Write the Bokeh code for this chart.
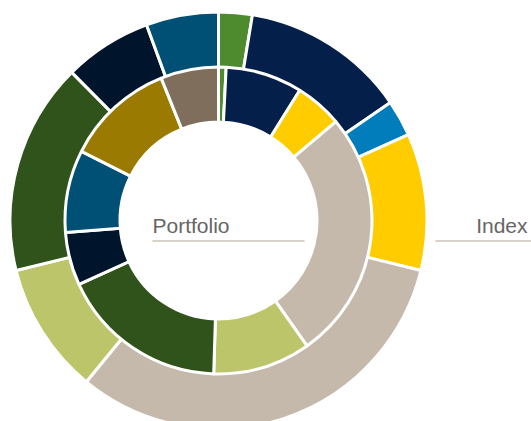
import numpy as np
from bokeh.plotting import figure
from bokeh.models import Range1d, ColumnDataSource
from bokeh.core.properties import value
from bokeh.embed import file_html
from bokeh.resources import INLINE

# ---- data (percent weights, clockwise from 12 o'clock) ----
portfolio_categories = ["Green", "Navy", "Yellow", "Beige", "Light Green",
                        "Dark Green", "Dark Navy", "Teal", "Mustard", "Taupe"]
portfolio_values = [0.8, 8.1, 5.0, 26.4, 10.3, 17.7, 5.6, 8.7, 11.5, 6.1]
portfolio_colors = ["#4E8A2E", "#04204A", "#FFCC00", "#C5B9AC", "#BDC56B",
                    "#30531C", "#00152B", "#004F74", "#9A7A00", "#7F6E5C"]

index_categories = ["Green", "Navy", "Blue", "Yellow", "Beige", "Light Green",
                    "Dark Green", "Dark Navy", "Teal"]
index_values = [2.6, 12.8, 2.8, 10.6, 32.0, 10.2, 16.4, 6.8, 5.6]
index_colors = ["#4E8A2E", "#04204A", "#007DBA", "#FFCC00", "#C5B9AC",
                "#BDC56B", "#30531C", "#00152B", "#004F74"]

ring_labels = ["Portfolio", "Index"]

W, H = 531, 421
CX, CY = 218, H - 220


def ring_source(cats, vals, cols):
    v = np.asarray(vals, dtype=float)
    frac = v / v.sum()
    ends = np.cumsum(frac) * 2 * np.pi
    starts = ends - frac * 2 * np.pi
    return ColumnDataSource(dict(
        cat=cats, color=cols,
        start=np.pi / 2 - starts, end=np.pi / 2 - ends,
    ))


p = figure(width=W, height=H, output_backend="svg", toolbar_location=None,
           x_range=Range1d(0, W), y_range=Range1d(0, H),
           min_border=0, min_border_left=0, min_border_right=0,
           min_border_top=0, min_border_bottom=0)
p.axis.visible = False
p.grid.visible = False
p.outline_line_color = None
p.background_fill_color = "white"
p.border_fill_color = "white"

src_in = ring_source(portfolio_categories, portfolio_values, portfolio_colors)
src_out = ring_source(index_categories, index_values, index_colors)

p.annular_wedge(x=CX, y=CY, inner_radius=152.5, outer_radius=208.5,
                start_angle="start", end_angle="end", direction="clock",
                fill_color="color", line_color="white", line_width=3,
                source=src_out)
p.annular_wedge(x=CX, y=CY, inner_radius=98.5, outer_radius=153.5,
                start_angle="start", end_angle="end", direction="clock",
                fill_color="color", line_color="white", line_width=3,
                source=src_in)

# labels with underline
ly = H - 240.5
p.segment(x0=[152, 435], y0=[ly, ly], x1=[304, 531], y1=[ly, ly],
          line_color="#D8D2CA", line_width=2)
ty = H - 224.5
p.text(x=[152], y=[ty], text=[ring_labels[0]], text_align="left",
       text_baseline="alphabetic", text_font=value("Liberation Sans"),
       text_font_size="21px", text_color="#666666")
p.text(x=[527], y=[ty], text=[ring_labels[1]], text_align="right",
       text_baseline="alphabetic", text_font=value("Liberation Sans"),
       text_font_size="21px", text_color="#666666")

open("out.html", "w").write(file_html(p, INLINE))
